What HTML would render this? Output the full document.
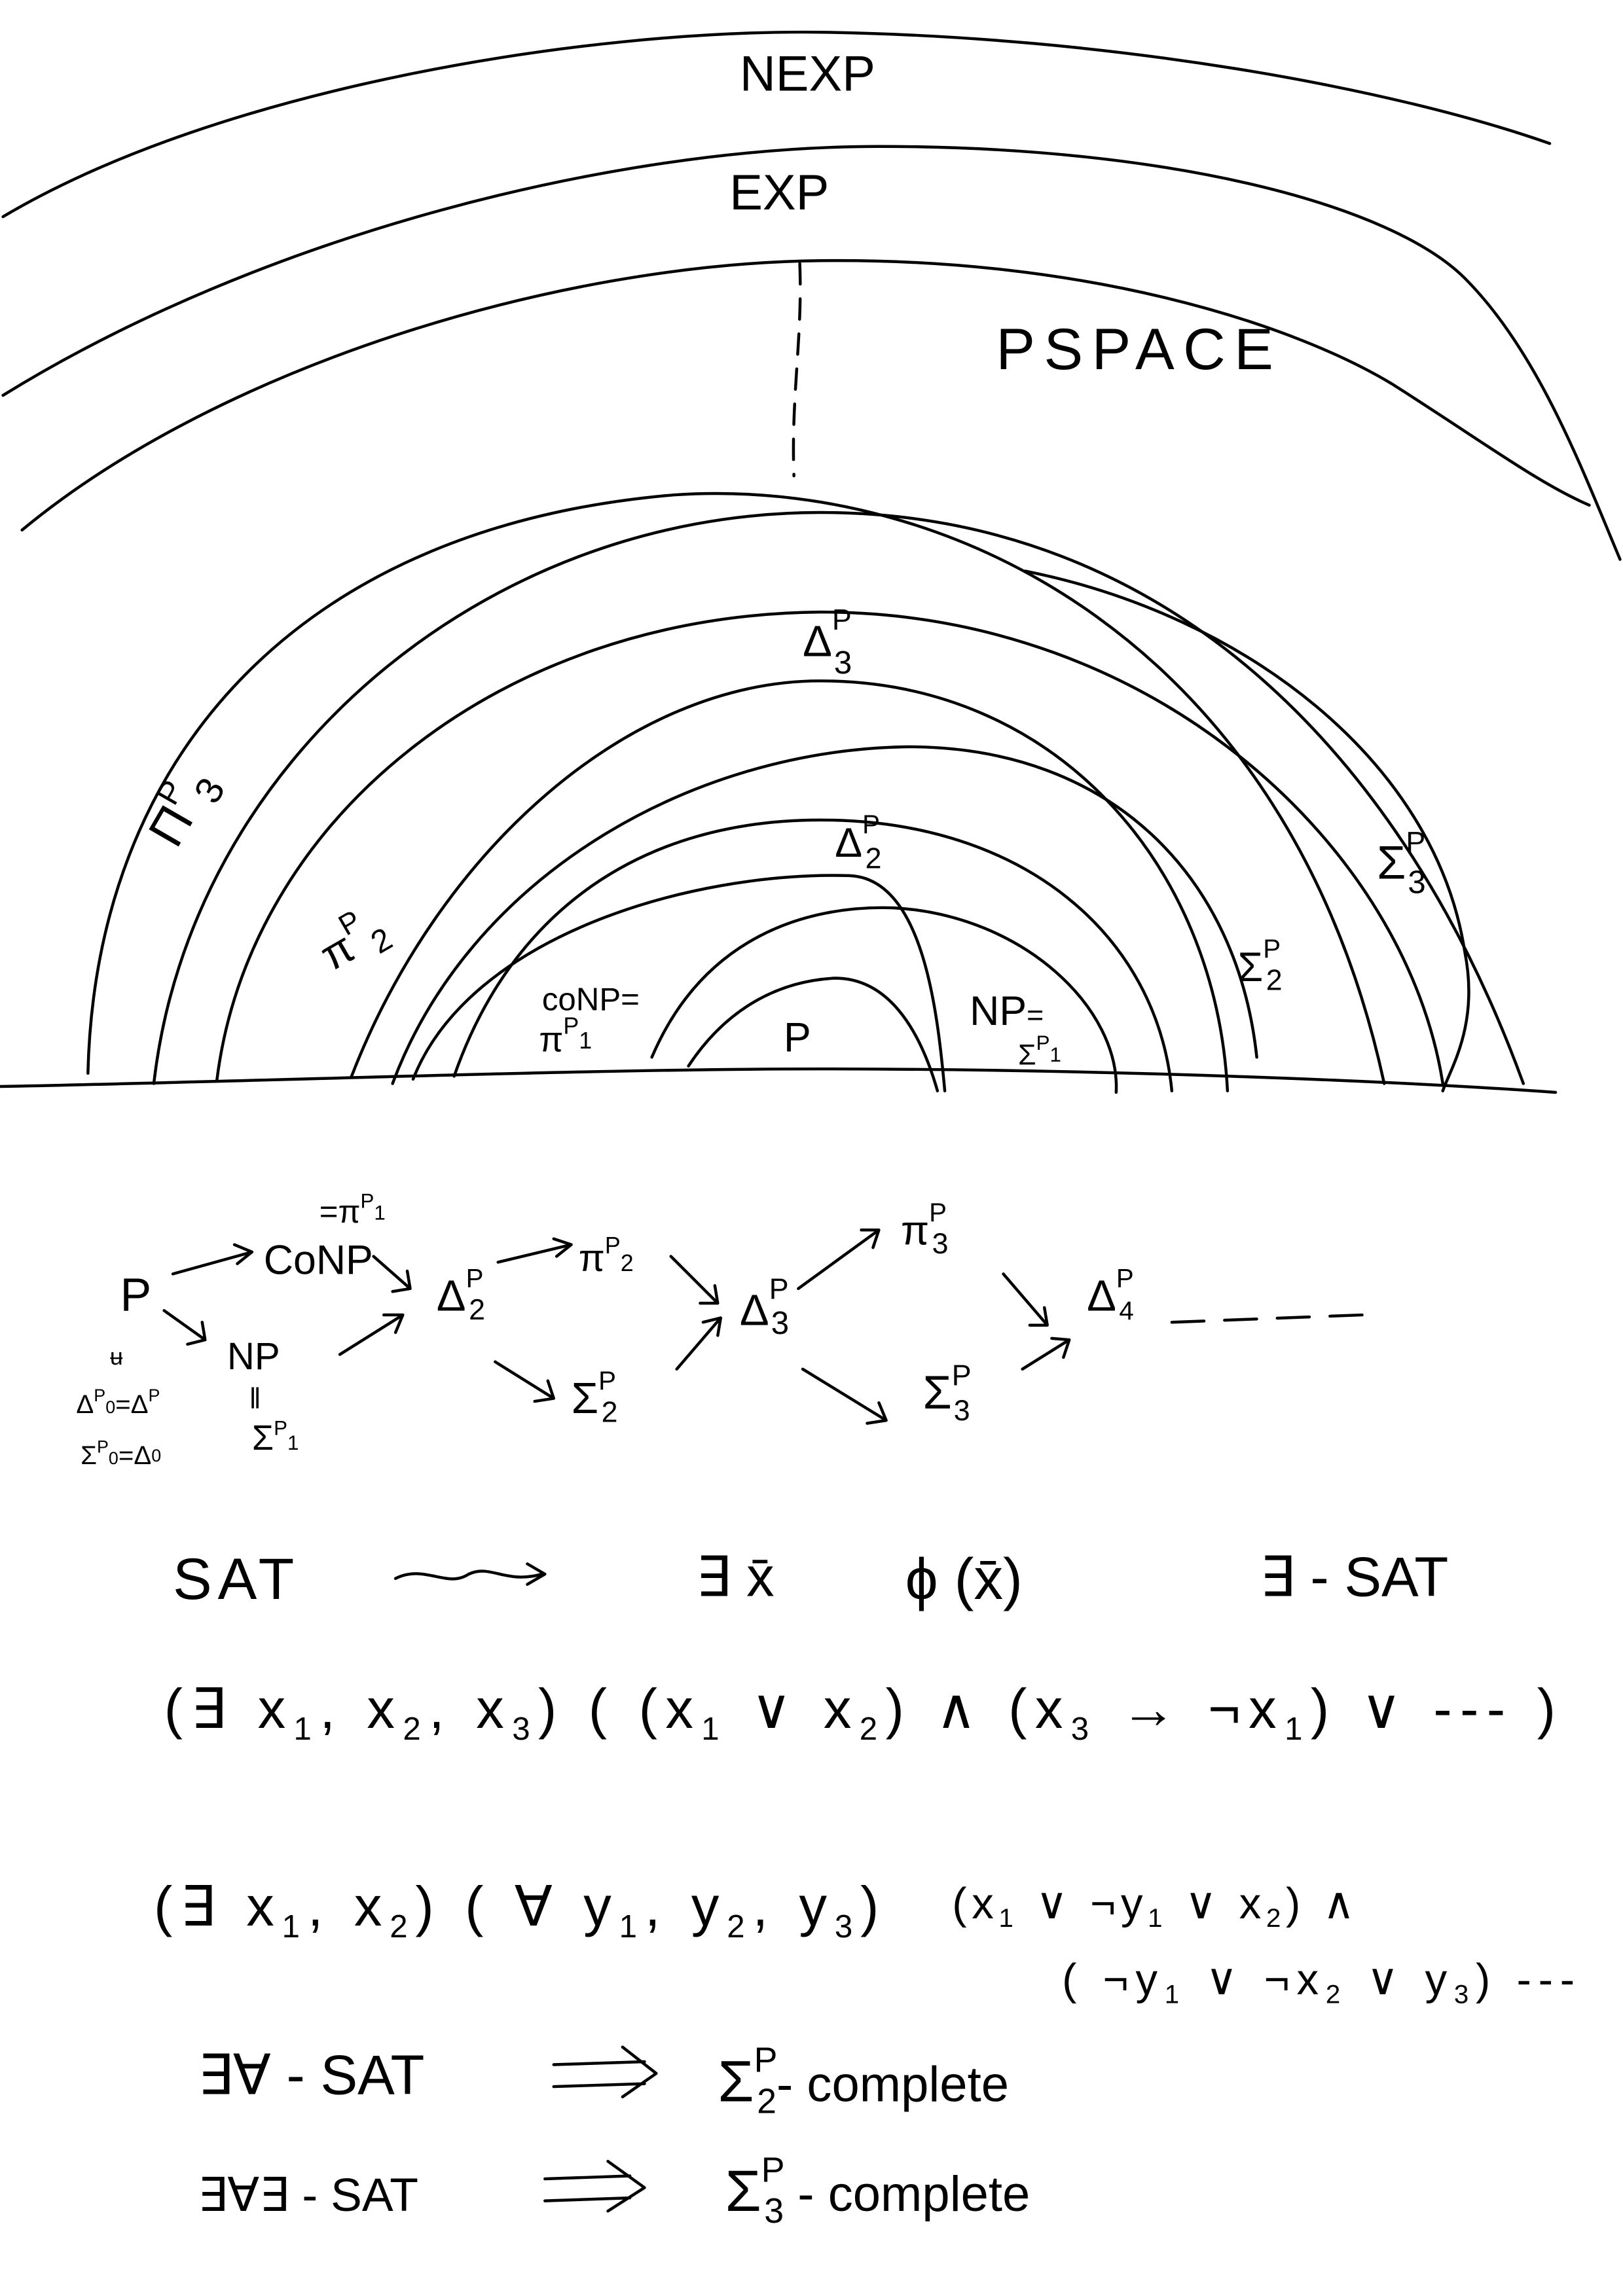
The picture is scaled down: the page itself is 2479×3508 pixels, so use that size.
<!DOCTYPE html>
<html><head><meta charset="utf-8">
<style>
html,body{margin:0;padding:0;background:#fff;}
svg{display:block;}
text{font-family:"Liberation Sans",sans-serif;fill:#000;}
.s{fill:none;stroke:#000;stroke-width:2;stroke-linecap:round;stroke-linejoin:round;}
</style></head>
<body>
<svg width="2479" height="3508" viewBox="0 0 1108 1568">
<path class="s" d="M2,148 C150,60 400,20 560,22 C760,25 950,60 1058,98"/>
<path class="s" d="M2,270 C180,160 420,100 600,100 C800,100 950,140 1000,190 C1050,240 1080,320 1106,382"/>
<path class="s" d="M15,362 C150,250 380,180 560,178 C740,176 880,220 950,262 C1010,300 1050,330 1085,345"/>
<path class="s" stroke-dasharray="14,10" d="M546,180 C548,230 540,270 542,325"/>
<text x="505" y="62" font-size="34">NEXP</text>
<text x="498" y="143" font-size="34">EXP</text>
<text x="680" y="252" font-size="40" letter-spacing="6">PSPACE</text>

<path class="s" d="M60,733 C65,520 200,360 460,338 C650,325 880,440 945,740"/>
<path class="s" d="M105,740 C130,520 330,350 560,350 C800,350 960,520 1040,740"/>
<path class="s" d="M148,738 C170,560 340,420 560,418 C790,418 960,580 985,740"/>
<path class="s" d="M240,735 C300,580 430,465 560,465 C720,465 830,590 838,745"/>
<path class="s" d="M268,740 C320,600 470,512 620,510 C760,510 845,600 858,722"/>
<path class="s" d="M310,735 C350,620 440,560 560,560 C700,560 790,640 800,745"/>
<path class="s" d="M282,737 C320,640 470,595 580,598 C630,600 640,690 645,745"/>
<path class="s" d="M445,722 C480,640 550,618 610,620 C700,625 765,690 762,746"/>
<path class="s" d="M470,728 C495,690 530,670 570,668 C610,668 630,710 640,745"/>
<path class="s" d="M700,390 C850,420 980,520 1000,650 C1010,700 990,730 985,745"/>
<path class="s" d="M0,742 C200,738 400,730 560,730 C750,730 950,738 1062,746"/>

<text x="548" y="448" font-size="30">Δ<tspan font-size="20" dy="-18">P</tspan><tspan font-size="22" dx="-12" dy="30">3</tspan></text>
<text x="570" y="585" font-size="28">Δ<tspan font-size="18" dy="-16">P</tspan><tspan font-size="20" dx="-10" dy="24">2</tspan></text>
<text x="100" y="575" font-size="34" transform="rotate(-60 115 560)">Π<tspan font-size="22" dy="-16">P</tspan><tspan font-size="26" dy="24">3</tspan></text>
<text x="220" y="660" font-size="30" transform="rotate(-30 230 650)">π<tspan font-size="20" dy="-16">P</tspan><tspan font-size="22" dy="22">2</tspan></text>
<text x="370" y="690" font-size="22">coNP=</text>
<text x="368" y="718" font-size="24">π<tspan font-size="16" dy="-12">P</tspan><tspan font-size="16" dy="10">1</tspan></text>
<text x="535" y="718" font-size="28">P</text>
<text x="662" y="700" font-size="28">NP<tspan font-size="20">=</tspan></text>
<text x="695" y="727" font-size="20">Σ<tspan font-size="14" dy="-10">P</tspan><tspan font-size="14" dy="8">1</tspan></text>
<text x="845" y="670" font-size="28">Σ<tspan font-size="18" dy="-16">P</tspan><tspan font-size="20" dx="-10" dy="22">2</tspan></text>
<text x="940" y="600" font-size="32">Σ<tspan font-size="20" dy="-18">P</tspan><tspan font-size="22" dx="-12" dy="28">3</tspan></text>

<g>
<text x="82" y="895" font-size="32">P</text>
<text x="180" y="870" font-size="28">CoNP</text>
<text x="218" y="835" font-size="22">=π<tspan font-size="14" dy="-10">P</tspan><tspan font-size="14" dy="8">1</tspan></text>
<text x="155" y="935" font-size="26">NP</text>
<text x="170" y="962" font-size="20">‖</text>
<text x="172" y="990" font-size="24">Σ<tspan font-size="14" dy="-10">P</tspan><tspan font-size="14" dy="10">1</tspan></text>
<text x="75" y="932" font-size="16">ʉ</text>
<text x="52" y="965" font-size="18">Δ<tspan font-size="12" dy="-8">P</tspan><tspan font-size="12" dy="8">0</tspan>=Δ<tspan font-size="12" dy="-8">P</tspan></text>
<text x="55" y="1000" font-size="18">Σ<tspan font-size="12" dy="-8">P</tspan><tspan font-size="12" dy="8">0</tspan>=Δ<tspan font-size="12" dy="-2">0</tspan></text>
<text x="298" y="895" font-size="30">Δ<tspan font-size="18" dy="-16">P</tspan><tspan font-size="20" dx="-10" dy="22">2</tspan></text>
<text x="395" y="868" font-size="26">π<tspan font-size="16" dy="-12">P</tspan><tspan font-size="16" dy="12">2</tspan></text>
<text x="390" y="965" font-size="30">Σ<tspan font-size="18" dy="-16">P</tspan><tspan font-size="20" dx="-10" dy="22">2</tspan></text>
<text x="505" y="905" font-size="30">Δ<tspan font-size="20" dy="-18">P</tspan><tspan font-size="22" dx="-12" dy="24">3</tspan></text>
<text x="615" y="850" font-size="28">π<tspan font-size="18" dy="-16">P</tspan><tspan font-size="20" dx="-10" dy="22">3</tspan></text>
<text x="630" y="962" font-size="32">Σ<tspan font-size="20" dy="-16">P</tspan><tspan font-size="20" dx="-12" dy="24">3</tspan></text>
<text x="742" y="895" font-size="30">Δ<tspan font-size="18" dy="-16">P</tspan><tspan font-size="18" dx="-10" dy="22">4</tspan></text>
<path class="s" d="M118,870 L172,855 M160,850 L172,855 L162,863"/>
<path class="s" d="M112,895 L140,915 M128,918 L140,915 L138,903"/>
<path class="s" d="M255,858 L280,880 M268,882 L280,880 L278,868"/>
<path class="s" d="M232,925 L275,898 M262,898 L275,898 L270,910"/>
<path class="s" d="M340,862 L390,850 M378,846 L390,850 L380,858"/>
<path class="s" d="M338,930 L378,955 M365,957 L378,955 L374,943"/>
<path class="s" d="M458,858 L490,890 M478,890 L490,890 L488,878"/>
<path class="s" d="M462,935 L492,900 M480,903 L492,900 L490,912"/>
<path class="s" d="M545,880 L600,840 M588,840 L600,840 L596,852"/>
<path class="s" d="M548,935 L605,970 M592,972 L605,970 L600,958"/>
<path class="s" d="M685,870 L715,905 M703,905 L715,905 L713,893"/>
<path class="s" d="M698,935 L730,915 M718,914 L730,915 L726,927"/>
<path class="s" d="M800,903 L930,898" stroke-dasharray="22,14"/>
</g>

<g>
<text x="118" y="1092" font-size="40" letter-spacing="4">SAT</text>
<path class="s" d="M270,1078 C290,1068 305,1085 320,1075 C335,1068 345,1082 370,1075 M360,1068 L372,1075 L360,1082"/>
<text x="475" y="1090" font-size="38">∃ x̄</text>
<text x="618" y="1092" font-size="40">ϕ (x̄)</text>
<text x="860" y="1090" font-size="38">∃ - SAT</text>
<text x="112" y="1180" font-size="38" textLength="950" lengthAdjust="spacing">(∃ x<tspan font-size="22" dy="8">1</tspan><tspan dy="-8">, x</tspan><tspan font-size="22" dy="8">2</tspan><tspan dy="-8">, x</tspan><tspan font-size="22" dy="8">3</tspan><tspan dy="-8">) ( (x</tspan><tspan font-size="22" dy="8">1</tspan><tspan dy="-8"> ∨ x</tspan><tspan font-size="22" dy="8">2</tspan><tspan dy="-8">) ∧ (x</tspan><tspan font-size="22" dy="8">3</tspan><tspan dy="-8"> → ¬x</tspan><tspan font-size="22" dy="8">1</tspan><tspan dy="-8">) ∨ --- )</tspan></text>
<text x="105" y="1315" font-size="38" textLength="495" lengthAdjust="spacing">(∃ x<tspan font-size="22" dy="8">1</tspan><tspan dy="-8">, x</tspan><tspan font-size="22" dy="8">2</tspan><tspan dy="-8">) ( ∀ y</tspan><tspan font-size="22" dy="8">1</tspan><tspan dy="-8">, y</tspan><tspan font-size="22" dy="8">2</tspan><tspan dy="-8">, y</tspan><tspan font-size="22" dy="8">3</tspan><tspan dy="-8">)</tspan></text>
<text x="650" y="1310" font-size="30" textLength="275" lengthAdjust="spacing">(x<tspan font-size="18" dy="6">1</tspan><tspan dy="-6"> ∨ ¬y</tspan><tspan font-size="18" dy="6">1</tspan><tspan dy="-6"> ∨ x</tspan><tspan font-size="18" dy="6">2</tspan><tspan dy="-6">) ∧</tspan></text>
<text x="725" y="1362" font-size="30" textLength="350" lengthAdjust="spacing">( ¬y<tspan font-size="18" dy="6">1</tspan><tspan dy="-6"> ∨ ¬x</tspan><tspan font-size="18" dy="6">2</tspan><tspan dy="-6"> ∨ y</tspan><tspan font-size="18" dy="6">3</tspan><tspan dy="-6">) ---</tspan></text>
<text x="135" y="1430" font-size="38">∃∀ - SAT</text>
<path class="s" d="M378,1410 L440,1408 M378,1425 L440,1423 M425,1398 L448,1416 L425,1432"/>
<text x="490" y="1435" font-size="40">Σ<tspan font-size="24" dy="-20">P</tspan><tspan font-size="24" dx="-14" dy="28">2</tspan><tspan font-size="34" dy="-8">- complete</tspan></text>
<text x="135" y="1510" font-size="32">∃∀∃ - SAT</text>
<path class="s" d="M372,1488 L430,1486 M372,1503 L430,1501 M415,1476 L440,1494 L415,1510"/>
<text x="495" y="1510" font-size="40">Σ<tspan font-size="24" dy="-20">P</tspan><tspan font-size="24" dx="-14" dy="28">3</tspan><tspan font-size="34" dy="-8"> - complete</tspan></text>
</g>
</svg>
</body></html>
